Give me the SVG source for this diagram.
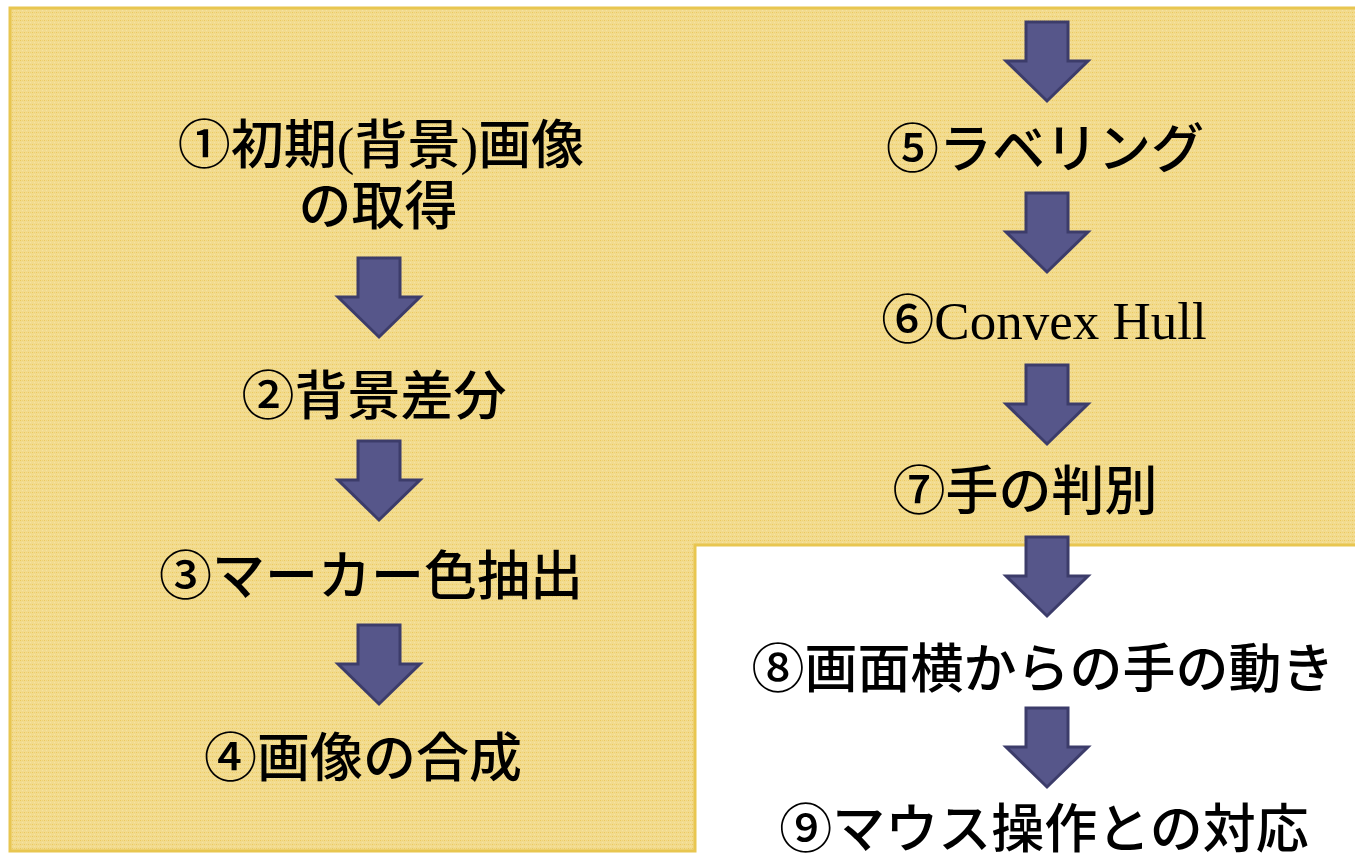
<svg xmlns="http://www.w3.org/2000/svg" width="1355" height="859" viewBox="0 0 1355 859">
  <defs>
    <pattern id="tex" width="4" height="4" patternUnits="userSpaceOnUse">
      <rect width="4" height="4" fill="#F2DB8E"/>
      <rect x="0" y="0" width="1" height="1" fill="#EBC85E"/>
      <rect x="2" y="2" width="1" height="1" fill="#F5E3A4"/>
      <rect x="2" y="0" width="1" height="1" fill="#EFD276"/>
    </pattern>
    <path id="arrow" d="M-21,0 H21 V39 H41 L0,79 L-41,39 H-21 Z"/>
    <style>
      .bg { fill: url(#tex); stroke: #E8C650; stroke-width: 3; }
      .arr { fill: #56568A; stroke: #3C3C6A; stroke-width: 3; stroke-linejoin: miter; }
      .t { font-family: "Liberation Serif", "Noto Sans CJK JP", serif; font-size: 53px; font-weight: 500; fill: #000; text-anchor: middle; }
    </style>
  </defs>
  <rect width="1355" height="859" fill="#fff"/>
  <path class="bg" d="M10,8 H1358 V545 H695 V851 H10 Z"/>

  <g id="connectors">
    <use href="#arrow" class="arr" x="379" y="258"/>
    <use href="#arrow" class="arr" x="379" y="441"/>
    <use href="#arrow" class="arr" x="379" y="625"/>
    <use href="#arrow" class="arr" x="1047" y="22"/>
    <use href="#arrow" class="arr" x="1047" y="193"/>
    <use href="#arrow" class="arr" x="1047" y="365"/>
    <use href="#arrow" class="arr" x="1047" y="537"/>
    <use href="#arrow" class="arr" x="1047" y="708"/>
  </g>

  <g id="node1"><text class="t" x="381" y="164">①初期(背景)画像</text><text class="t" x="378" y="225">の取得</text></g>
  <g id="node2"><text class="t" x="374" y="415">②背景差分</text></g>
  <g id="node3"><text class="t" x="371" y="595">③マーカー色抽出</text></g>
  <g id="node4"><text class="t" x="363" y="777">④画像の合成</text></g>
  <g id="node5"><text class="t" x="1045" y="168">⑤ラベリング</text></g>
  <g id="node6"><text class="t" x="1044" y="339">⑥Convex Hull</text></g>
  <g id="node7"><text class="t" x="1025" y="510">⑦手の判別</text></g>
  <g id="node8"><text class="t" x="1043" y="688">⑧画面横からの手の動き</text></g>
  <g id="node9"><text class="t" x="1044" y="848">⑨マウス操作との対応</text></g>
</svg>
